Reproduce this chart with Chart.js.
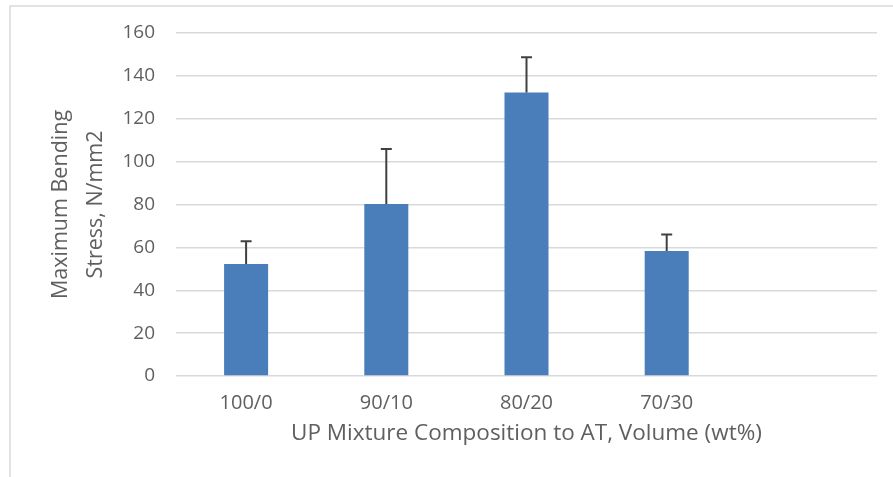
<!DOCTYPE html>
<html>
<head>
<meta charset="utf-8">
<script src="https://cdn.jsdelivr.net/npm/chart.js@4"></script>
<style>
  html, body { margin: 0; padding: 0; background: #ffffff; }
  #wrap { position: relative; width: 893px; height: 477px; }
</style>
</head>
<body>
<div id="wrap"><canvas id="c" width="893" height="477"></canvas></div>
<script>
// ---- data ----
const categories = ['100/0', '90/10', '80/20', '70/30', ''];
const stressMean = [52.2, 80.2, 132.3, 58.3, null];
const stressErrPlus = [10.6, 25.7, 16.4, 7.7, null];
const yTicks = [0, 20, 40, 60, 80, 100, 120, 140, 160];
const yTitleLines = ['Maximum Bending', 'Stress, N/mm2'];
const xTitle = 'UP Mixture Composition to AT, Volume (wt%)';

const textColor = '#5f5f5f';
const fontFamily = "'Open Sans', 'Noto Sans', sans-serif";

const framePlugin = {
  id: 'frame',
  beforeDraw(chart) {
    const ctx = chart.ctx;
    ctx.save();
    ctx.fillStyle = '#ffffff';
    ctx.fillRect(0, 0, chart.width, chart.height);
    ctx.strokeStyle = '#d9d9d9';
    ctx.lineWidth = 1.5;
    ctx.beginPath();
    ctx.moveTo(10, chart.height);
    ctx.lineTo(10, 6);
    ctx.lineTo(chart.width, 6);
    ctx.stroke();
    ctx.restore();
  }
};

const errorBarPlugin = {
  id: 'errorBars',
  afterDatasetsDraw(chart) {
    const ctx = chart.ctx;
    const meta = chart.getDatasetMeta(0);
    const yScale = chart.scales.y;
    ctx.save();
    ctx.strokeStyle = '#404040';
    ctx.lineWidth = 2;
    meta.data.forEach((bar, i) => {
      const v = stressMean[i];
      const e = stressErrPlus[i];
      if (v == null || e == null) return;
      const x = bar.x;
      const yTop = yScale.getPixelForValue(v + e);
      const yBase = yScale.getPixelForValue(v);
      ctx.beginPath();
      ctx.moveTo(x, yBase);
      ctx.lineTo(x, yTop);
      ctx.moveTo(x - 5.5, yTop);
      ctx.lineTo(x + 5.5, yTop);
      ctx.stroke();
    });
    ctx.restore();
  }
};

new Chart(document.getElementById('c'), {
  type: 'bar',
  data: {
    labels: categories,
    datasets: [{
      data: stressMean,
      backgroundColor: '#4a7ebb',
      borderWidth: 0,
      barPercentage: 0.314,
      categoryPercentage: 1.0
    }]
  },
  options: {
    responsive: false,
    animation: false,
    devicePixelRatio: 1,
    layout: { padding: { left: 10, right: 16, top: 33, bottom: 0 } },
    plugins: { legend: { display: false }, tooltip: { enabled: false } },
    scales: {
      x: {
        grid: { display: false, drawTicks: false },
        border: { display: false },
        ticks: { color: textColor, font: { family: fontFamily, size: 20 }, padding: 15, maxRotation: 0 },
        title: {
          display: true, text: xTitle, color: textColor,
          font: { family: fontFamily, size: 22.5 }, padding: { top: 0, bottom: 29.5 }
        },
        afterFit(scale) { scale.height = 101; }
      },
      y: {
        min: 0, max: 160,
        afterBuildTicks(scale) { scale.ticks = yTicks.map(v => ({ value: v })); },
        grid: { color: '#d9d9d9', lineWidth: 1.5, drawTicks: false },
        border: { display: false },
        ticks: { color: textColor, font: { family: fontFamily, size: 19 }, padding: 21 },
        title: {
          display: true, text: yTitleLines, color: textColor,
          font: { family: fontFamily, size: 21.5, lineHeight: 1.6 }, padding: { top: 34, bottom: 0 }
        },
        afterFit(scale) { scale.width = 166; }
      }
    }
  },
  plugins: [framePlugin, errorBarPlugin]
});
</script>
</body>
</html>
